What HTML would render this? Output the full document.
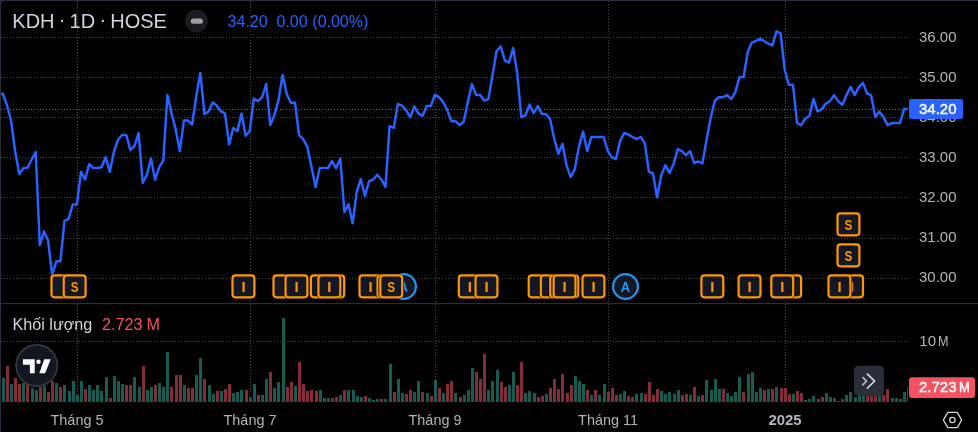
<!DOCTYPE html><html><head><meta charset="utf-8"><title>KDH</title><style>
html,body{margin:0;padding:0;background:#2a2e39;}
#c{will-change:transform;position:relative;width:978px;height:432px;overflow:hidden;background:#2a2e39;}
#bg{position:absolute;left:1px;top:1px;width:977px;height:431px;background:#000;border-top-left-radius:4px;}
.t{position:absolute;white-space:nowrap;font-family:'Liberation Sans',sans-serif;}
</style></head><body><div id="c"><div id="bg"></div>
<style>.md{position:relative;top:-1.7px;}.ax{font-size:15px;line-height:18px;color:#b2b5be;}</style>
<div class="t ax" style="left:919px;top:28.0px;">36.00</div><div class="t ax" style="left:919px;top:68.0px;">35.00</div><div class="t ax" style="left:919px;top:108.0px;">34.00</div><div class="t ax" style="left:919px;top:148.0px;">33.00</div><div class="t ax" style="left:919px;top:188.0px;">32.00</div><div class="t ax" style="left:919px;top:228.0px;">31.00</div><div class="t ax" style="left:919px;top:268.0px;">30.00</div>
<div class="t ax" style="left:919.3px;top:331.5px;">10<span style="display:inline-block;margin-left:1.8px;transform:scaleX(0.84);transform-origin:left center">M</span></div>
<svg width="978" height="432" viewBox="0 0 978 432" style="position:absolute;left:0;top:0">
<defs><clipPath id="plot"><rect x="1" y="1" width="907" height="401"/></clipPath></defs>
<g stroke="#474747" stroke-width="1" stroke-dasharray="1 2" fill="none" shape-rendering="crispEdges">
<path d="M1 37.5H908"/>
<path d="M1 77.5H908"/>
<path d="M1 117.5H908"/>
<path d="M1 157.5H908"/>
<path d="M1 197.5H908"/>
<path d="M1 238.5H908"/>
<path d="M1 278.5H908"/>
<path d="M1 341.5H908"/>
<path d="M77.5 1V402"/>
<path d="M250.5 1V402"/>
<path d="M435.5 1V402"/>
<path d="M608.5 1V402"/>
<path d="M785.5 1V402"/>
</g>
<rect x="1" y="303" width="977" height="1.2" fill="#2a2e39"/>
<g clip-path="url(#plot)" shape-rendering="crispEdges">
<rect x="2" y="378" width="3" height="24" fill="#155d52"/>
<rect x="6" y="366" width="3" height="36" fill="#842d38"/>
<rect x="10" y="384" width="3" height="18" fill="#155d52"/>
<rect x="14" y="378" width="3" height="24" fill="#842d38"/>
<rect x="18" y="384" width="3" height="18" fill="#842d38"/>
<rect x="22" y="383" width="3" height="19" fill="#155d52"/>
<rect x="26" y="384" width="3" height="18" fill="#842d38"/>
<rect x="31" y="388" width="3" height="14" fill="#155d52"/>
<rect x="35" y="390" width="3" height="12" fill="#155d52"/>
<rect x="39" y="387" width="3" height="15" fill="#842d38"/>
<rect x="43" y="386" width="3" height="16" fill="#155d52"/>
<rect x="47" y="392" width="3" height="10" fill="#842d38"/>
<rect x="51" y="381" width="3" height="21" fill="#842d38"/>
<rect x="55" y="383" width="3" height="19" fill="#155d52"/>
<rect x="59" y="387" width="3" height="15" fill="#842d38"/>
<rect x="63" y="385" width="3" height="17" fill="#155d52"/>
<rect x="68" y="391" width="3" height="11" fill="#155d52"/>
<rect x="72" y="381" width="3" height="21" fill="#155d52"/>
<rect x="76" y="395" width="3" height="7" fill="#155d52"/>
<rect x="80" y="381" width="3" height="21" fill="#155d52"/>
<rect x="84" y="389" width="3" height="13" fill="#842d38"/>
<rect x="88" y="385" width="3" height="17" fill="#155d52"/>
<rect x="92" y="390" width="3" height="12" fill="#155d52"/>
<rect x="96" y="385" width="3" height="17" fill="#155d52"/>
<rect x="100" y="391" width="3" height="11" fill="#155d52"/>
<rect x="105" y="377" width="3" height="25" fill="#155d52"/>
<rect x="109" y="398" width="3" height="4" fill="#842d38"/>
<rect x="113" y="376" width="3" height="26" fill="#155d52"/>
<rect x="117" y="381" width="3" height="21" fill="#155d52"/>
<rect x="121" y="384" width="3" height="18" fill="#155d52"/>
<rect x="125" y="385" width="3" height="17" fill="#842d38"/>
<rect x="129" y="385" width="3" height="17" fill="#842d38"/>
<rect x="133" y="377" width="3" height="25" fill="#155d52"/>
<rect x="138" y="387" width="3" height="15" fill="#155d52"/>
<rect x="142" y="366" width="3" height="36" fill="#842d38"/>
<rect x="146" y="390" width="3" height="12" fill="#155d52"/>
<rect x="150" y="387" width="3" height="15" fill="#155d52"/>
<rect x="154" y="385" width="3" height="17" fill="#842d38"/>
<rect x="158" y="383" width="3" height="19" fill="#155d52"/>
<rect x="162" y="387" width="3" height="15" fill="#155d52"/>
<rect x="166" y="352" width="3" height="50" fill="#155d52"/>
<rect x="170" y="387" width="3" height="15" fill="#842d38"/>
<rect x="175" y="375" width="3" height="27" fill="#842d38"/>
<rect x="179" y="375" width="3" height="27" fill="#842d38"/>
<rect x="183" y="385" width="3" height="17" fill="#155d52"/>
<rect x="187" y="388" width="3" height="14" fill="#842d38"/>
<rect x="191" y="388" width="3" height="14" fill="#842d38"/>
<rect x="195" y="375" width="3" height="27" fill="#155d52"/>
<rect x="199" y="358" width="3" height="44" fill="#155d52"/>
<rect x="203" y="379" width="3" height="23" fill="#842d38"/>
<rect x="208" y="385" width="3" height="17" fill="#155d52"/>
<rect x="212" y="394" width="3" height="8" fill="#155d52"/>
<rect x="216" y="391" width="3" height="11" fill="#842d38"/>
<rect x="220" y="391" width="3" height="11" fill="#155d52"/>
<rect x="224" y="389" width="3" height="13" fill="#842d38"/>
<rect x="228" y="384" width="3" height="18" fill="#842d38"/>
<rect x="232" y="393" width="3" height="9" fill="#155d52"/>
<rect x="236" y="392" width="3" height="10" fill="#155d52"/>
<rect x="240" y="390" width="3" height="12" fill="#155d52"/>
<rect x="245" y="390" width="3" height="12" fill="#842d38"/>
<rect x="249" y="397" width="3" height="5" fill="#155d52"/>
<rect x="253" y="384" width="3" height="18" fill="#155d52"/>
<rect x="257" y="395" width="3" height="7" fill="#842d38"/>
<rect x="261" y="395" width="3" height="7" fill="#155d52"/>
<rect x="265" y="379" width="3" height="23" fill="#155d52"/>
<rect x="269" y="372" width="3" height="30" fill="#842d38"/>
<rect x="273" y="388" width="3" height="14" fill="#155d52"/>
<rect x="277" y="382" width="3" height="20" fill="#155d52"/>
<rect x="282" y="318" width="3" height="84" fill="#155d52"/>
<rect x="286" y="387" width="3" height="15" fill="#842d38"/>
<rect x="290" y="382" width="3" height="20" fill="#842d38"/>
<rect x="294" y="386" width="3" height="16" fill="#155d52"/>
<rect x="298" y="362" width="3" height="40" fill="#842d38"/>
<rect x="302" y="384" width="3" height="18" fill="#842d38"/>
<rect x="306" y="391" width="3" height="11" fill="#842d38"/>
<rect x="310" y="390" width="3" height="12" fill="#842d38"/>
<rect x="315" y="391" width="3" height="11" fill="#842d38"/>
<rect x="319" y="390" width="3" height="12" fill="#155d52"/>
<rect x="323" y="398" width="3" height="4" fill="#155d52"/>
<rect x="327" y="398" width="3" height="4" fill="#155d52"/>
<rect x="331" y="398" width="3" height="4" fill="#842d38"/>
<rect x="335" y="397" width="3" height="5" fill="#842d38"/>
<rect x="339" y="395" width="3" height="7" fill="#155d52"/>
<rect x="343" y="390" width="3" height="12" fill="#842d38"/>
<rect x="347" y="390" width="3" height="12" fill="#155d52"/>
<rect x="352" y="390" width="3" height="12" fill="#155d52"/>
<rect x="356" y="396" width="3" height="6" fill="#155d52"/>
<rect x="360" y="397" width="3" height="5" fill="#155d52"/>
<rect x="364" y="396" width="3" height="6" fill="#842d38"/>
<rect x="368" y="398" width="3" height="4" fill="#155d52"/>
<rect x="372" y="400" width="3" height="2" fill="#155d52"/>
<rect x="376" y="399" width="3" height="3" fill="#155d52"/>
<rect x="380" y="399" width="3" height="3" fill="#842d38"/>
<rect x="384" y="399" width="3" height="3" fill="#155d52"/>
<rect x="389" y="364" width="3" height="38" fill="#155d52"/>
<rect x="393" y="392" width="3" height="10" fill="#842d38"/>
<rect x="397" y="379" width="3" height="23" fill="#155d52"/>
<rect x="401" y="393" width="3" height="9" fill="#155d52"/>
<rect x="405" y="394" width="3" height="8" fill="#842d38"/>
<rect x="409" y="390" width="3" height="12" fill="#842d38"/>
<rect x="413" y="392" width="3" height="10" fill="#155d52"/>
<rect x="417" y="381" width="3" height="21" fill="#155d52"/>
<rect x="421" y="392" width="3" height="10" fill="#842d38"/>
<rect x="426" y="393" width="3" height="9" fill="#155d52"/>
<rect x="430" y="396" width="3" height="6" fill="#842d38"/>
<rect x="434" y="380" width="3" height="22" fill="#155d52"/>
<rect x="438" y="388" width="3" height="14" fill="#842d38"/>
<rect x="442" y="393" width="3" height="9" fill="#155d52"/>
<rect x="446" y="384" width="3" height="18" fill="#842d38"/>
<rect x="450" y="381" width="3" height="21" fill="#842d38"/>
<rect x="454" y="393" width="3" height="9" fill="#155d52"/>
<rect x="459" y="397" width="3" height="5" fill="#842d38"/>
<rect x="463" y="395" width="3" height="7" fill="#155d52"/>
<rect x="467" y="390" width="3" height="12" fill="#155d52"/>
<rect x="471" y="368" width="3" height="34" fill="#155d52"/>
<rect x="475" y="372" width="3" height="30" fill="#842d38"/>
<rect x="479" y="379" width="3" height="23" fill="#842d38"/>
<rect x="483" y="354" width="3" height="48" fill="#842d38"/>
<rect x="487" y="390" width="3" height="12" fill="#155d52"/>
<rect x="491" y="381" width="3" height="21" fill="#155d52"/>
<rect x="496" y="370" width="3" height="32" fill="#155d52"/>
<rect x="500" y="382" width="3" height="20" fill="#842d38"/>
<rect x="504" y="387" width="3" height="15" fill="#842d38"/>
<rect x="508" y="385" width="3" height="17" fill="#155d52"/>
<rect x="512" y="372" width="3" height="30" fill="#155d52"/>
<rect x="516" y="385" width="3" height="17" fill="#842d38"/>
<rect x="520" y="362" width="3" height="40" fill="#842d38"/>
<rect x="524" y="393" width="3" height="9" fill="#155d52"/>
<rect x="528" y="391" width="3" height="11" fill="#155d52"/>
<rect x="533" y="393" width="3" height="9" fill="#155d52"/>
<rect x="537" y="397" width="3" height="5" fill="#842d38"/>
<rect x="541" y="396" width="3" height="6" fill="#842d38"/>
<rect x="545" y="394" width="3" height="8" fill="#155d52"/>
<rect x="549" y="388" width="3" height="14" fill="#842d38"/>
<rect x="553" y="379" width="3" height="23" fill="#842d38"/>
<rect x="557" y="389" width="3" height="13" fill="#842d38"/>
<rect x="561" y="374" width="3" height="28" fill="#842d38"/>
<rect x="566" y="393" width="3" height="9" fill="#842d38"/>
<rect x="570" y="385" width="3" height="17" fill="#842d38"/>
<rect x="574" y="376" width="3" height="26" fill="#155d52"/>
<rect x="578" y="381" width="3" height="21" fill="#155d52"/>
<rect x="582" y="384" width="3" height="18" fill="#155d52"/>
<rect x="586" y="390" width="3" height="12" fill="#842d38"/>
<rect x="590" y="395" width="3" height="7" fill="#155d52"/>
<rect x="594" y="390" width="3" height="12" fill="#842d38"/>
<rect x="598" y="395" width="3" height="7" fill="#155d52"/>
<rect x="603" y="384" width="3" height="18" fill="#155d52"/>
<rect x="607" y="392" width="3" height="10" fill="#842d38"/>
<rect x="611" y="388" width="3" height="14" fill="#842d38"/>
<rect x="615" y="395" width="3" height="7" fill="#842d38"/>
<rect x="619" y="394" width="3" height="8" fill="#155d52"/>
<rect x="623" y="391" width="3" height="11" fill="#155d52"/>
<rect x="627" y="396" width="3" height="6" fill="#842d38"/>
<rect x="631" y="397" width="3" height="5" fill="#842d38"/>
<rect x="635" y="394" width="3" height="8" fill="#155d52"/>
<rect x="640" y="393" width="3" height="9" fill="#155d52"/>
<rect x="644" y="394" width="3" height="8" fill="#842d38"/>
<rect x="648" y="382" width="3" height="20" fill="#842d38"/>
<rect x="652" y="395" width="3" height="7" fill="#842d38"/>
<rect x="656" y="389" width="3" height="13" fill="#842d38"/>
<rect x="660" y="391" width="3" height="11" fill="#155d52"/>
<rect x="664" y="394" width="3" height="8" fill="#155d52"/>
<rect x="668" y="392" width="3" height="10" fill="#155d52"/>
<rect x="673" y="394" width="3" height="8" fill="#155d52"/>
<rect x="677" y="390" width="3" height="12" fill="#155d52"/>
<rect x="681" y="395" width="3" height="7" fill="#842d38"/>
<rect x="685" y="394" width="3" height="8" fill="#842d38"/>
<rect x="689" y="395" width="3" height="7" fill="#155d52"/>
<rect x="693" y="387" width="3" height="15" fill="#842d38"/>
<rect x="697" y="396" width="3" height="6" fill="#155d52"/>
<rect x="701" y="395" width="3" height="7" fill="#842d38"/>
<rect x="705" y="380" width="3" height="22" fill="#155d52"/>
<rect x="710" y="390" width="3" height="12" fill="#155d52"/>
<rect x="714" y="379" width="3" height="23" fill="#155d52"/>
<rect x="718" y="389" width="3" height="13" fill="#155d52"/>
<rect x="722" y="389" width="3" height="13" fill="#842d38"/>
<rect x="726" y="393" width="3" height="9" fill="#155d52"/>
<rect x="730" y="396" width="3" height="6" fill="#155d52"/>
<rect x="734" y="392" width="3" height="10" fill="#155d52"/>
<rect x="738" y="377" width="3" height="25" fill="#155d52"/>
<rect x="742" y="392" width="3" height="10" fill="#842d38"/>
<rect x="747" y="374" width="3" height="28" fill="#155d52"/>
<rect x="751" y="372" width="3" height="30" fill="#155d52"/>
<rect x="755" y="392" width="3" height="10" fill="#155d52"/>
<rect x="759" y="388" width="3" height="14" fill="#155d52"/>
<rect x="763" y="390" width="3" height="12" fill="#842d38"/>
<rect x="767" y="389" width="3" height="13" fill="#155d52"/>
<rect x="771" y="389" width="3" height="13" fill="#842d38"/>
<rect x="775" y="387" width="3" height="15" fill="#155d52"/>
<rect x="780" y="388" width="3" height="14" fill="#842d38"/>
<rect x="784" y="388" width="3" height="14" fill="#842d38"/>
<rect x="788" y="394" width="3" height="8" fill="#842d38"/>
<rect x="792" y="394" width="3" height="8" fill="#155d52"/>
<rect x="796" y="391" width="3" height="11" fill="#842d38"/>
<rect x="800" y="393" width="3" height="9" fill="#842d38"/>
<rect x="804" y="400" width="3" height="2" fill="#155d52"/>
<rect x="808" y="399" width="3" height="3" fill="#155d52"/>
<rect x="812" y="396" width="3" height="6" fill="#155d52"/>
<rect x="817" y="399" width="3" height="3" fill="#842d38"/>
<rect x="821" y="397" width="3" height="5" fill="#842d38"/>
<rect x="825" y="393" width="3" height="9" fill="#155d52"/>
<rect x="829" y="397" width="3" height="5" fill="#155d52"/>
<rect x="833" y="398" width="3" height="4" fill="#155d52"/>
<rect x="837" y="401" width="3" height="1" fill="#842d38"/>
<rect x="841" y="399" width="3" height="3" fill="#842d38"/>
<rect x="845" y="395" width="3" height="7" fill="#155d52"/>
<rect x="849" y="392" width="3" height="10" fill="#155d52"/>
<rect x="854" y="397" width="3" height="5" fill="#155d52"/>
<rect x="858" y="394" width="3" height="8" fill="#155d52"/>
<rect x="862" y="394" width="3" height="8" fill="#155d52"/>
<rect x="866" y="394" width="3" height="8" fill="#842d38"/>
<rect x="870" y="394" width="3" height="8" fill="#842d38"/>
<rect x="874" y="394" width="3" height="8" fill="#842d38"/>
<rect x="878" y="394" width="3" height="8" fill="#155d52"/>
<rect x="882" y="395" width="3" height="7" fill="#842d38"/>
<rect x="886" y="389" width="3" height="13" fill="#842d38"/>
<rect x="891" y="398" width="3" height="4" fill="#155d52"/>
<rect x="895" y="398" width="3" height="4" fill="#155d52"/>
<rect x="899" y="399" width="3" height="3" fill="#155d52"/>
<rect x="903" y="392" width="3" height="10" fill="#155d52"/>
<rect x="907" y="387" width="3" height="15" fill="#842d38"/>
</g>
<path d="M1 109.5H909" stroke="#2962ff" stroke-width="1" stroke-dasharray="1 2" fill="none" shape-rendering="crispEdges"/>
<polyline clip-path="url(#plot)" points="-1.3,94.6 2.8,93.6 6.9,105.0 11.0,120.5 15.1,151.0 19.3,174.0 23.4,168.2 27.5,167.8 31.6,159.5 35.7,152.0 39.8,245.0 44.0,231.5 48.1,240.5 52.2,275.0 56.3,261.3 60.4,261.3 64.5,220.8 68.6,218.8 72.8,204.4 76.9,204.4 81.0,171.7 85.1,179.4 89.2,164.2 93.3,168.0 97.5,168.0 101.6,167.2 105.7,157.2 109.8,171.8 113.9,152.0 118.0,139.7 122.1,135.0 126.3,135.0 130.4,150.1 134.5,146.2 138.6,133.1 142.7,183.0 146.8,175.1 151.0,158.6 155.1,179.8 159.2,167.2 163.3,160.6 167.4,95.0 171.5,113.1 175.6,129.1 179.8,151.0 183.9,120.6 188.0,120.6 192.1,124.7 196.2,96.5 200.3,73.0 204.5,114.0 208.6,111.6 212.7,102.5 216.8,105.7 220.9,111.2 225.0,113.6 229.1,144.4 233.3,128.1 237.4,131.2 241.5,113.6 245.6,135.8 249.7,131.1 253.8,98.7 258.0,101.1 262.1,97.1 266.2,84.0 270.3,125.1 274.4,115.1 278.5,100.1 282.6,75.0 286.8,94.1 290.9,102.7 295.0,102.7 299.1,135.1 303.2,139.1 307.3,146.8 311.5,167.0 315.6,187.0 319.7,168.1 323.8,168.1 327.9,168.1 332.0,161.1 336.1,168.1 340.3,158.5 344.4,212.2 348.5,204.2 352.6,223.3 356.7,192.0 360.8,179.2 365.0,196.0 369.1,181.2 373.2,179.5 377.3,174.8 381.4,179.5 385.5,186.9 389.6,126.2 393.8,127.8 397.9,104.1 402.0,105.7 406.1,110.1 410.2,117.2 414.3,106.5 418.5,113.7 422.6,115.8 426.7,106.1 430.8,106.1 434.9,94.7 439.0,97.1 443.1,102.1 447.3,110.1 451.4,121.2 455.5,121.2 459.6,125.2 463.7,121.8 467.8,102.1 472.0,84.1 476.1,95.1 480.2,95.1 484.3,100.7 488.4,99.1 492.5,75.1 496.6,51.0 500.8,46.4 504.9,60.6 509.0,62.6 513.1,48.0 517.2,73.1 521.3,117.2 525.5,115.2 529.6,104.5 533.7,113.1 537.8,106.1 541.9,113.8 546.0,114.2 550.1,119.1 554.3,139.1 558.4,153.7 562.5,143.7 566.6,165.7 570.7,177.1 574.8,169.1 579.0,146.1 583.1,131.6 587.2,151.1 591.3,137.0 595.4,137.0 599.5,137.0 603.6,137.0 607.8,151.1 611.9,157.1 616.0,159.1 620.1,141.1 624.2,133.0 628.3,134.6 632.5,137.0 636.6,139.1 640.7,137.0 644.8,143.1 648.9,171.7 653.0,173.5 657.1,197.2 661.3,175.1 665.4,165.1 669.5,173.1 673.6,164.1 677.7,149.1 681.8,151.1 686.0,155.1 690.1,151.1 694.2,163.1 698.3,161.5 702.4,163.5 706.5,140.1 710.6,118.0 714.8,100.8 718.9,97.2 723.0,97.2 727.1,95.1 731.2,99.2 735.3,92.1 739.5,77.1 743.6,77.1 747.7,52.1 751.8,42.6 755.9,41.0 760.0,38.6 764.1,41.0 768.3,43.6 772.4,45.4 776.5,31.4 780.6,33.3 784.7,69.5 788.8,84.8 793.0,84.8 797.1,123.1 801.2,125.1 805.3,118.5 809.4,116.1 813.5,99.0 817.6,111.5 821.8,109.1 825.9,103.5 830.0,101.1 834.1,95.1 838.2,101.1 842.3,104.9 846.5,95.1 850.6,86.8 854.7,95.1 858.8,87.2 862.9,82.9 867.0,93.3 871.1,95.3 875.3,117.1 879.4,111.5 883.5,117.1 887.6,125.1 891.7,123.1 895.8,123.1 900.0,123.1 904.1,109.1 908.2,109.1" fill="none" stroke="#2962ff" stroke-width="2.5" stroke-linejoin="round" stroke-linecap="round"/>
<rect x="49.8" y="273.7" width="25.3" height="25.3" rx="5" ry="5" fill="#000"/><rect x="51.5" y="275.4" width="21.9" height="21.9" rx="3" ry="3" fill="#141724" stroke="#ff9800" stroke-width="2.2"/>
<rect x="62.0" y="273.7" width="25.3" height="25.3" rx="5" ry="5" fill="#000"/><rect x="63.7" y="275.4" width="21.9" height="21.9" rx="3" ry="3" fill="#141724" stroke="#ff9800" stroke-width="2.2"/><text transform="translate(74.65 292.0) scale(0.76 1)" x="0" y="0" text-anchor="middle" font-family="Liberation Sans, sans-serif" font-weight="bold" font-size="15.4" fill="#ff9800">S</text>
<rect x="230.8" y="273.7" width="25.3" height="25.3" rx="5" ry="5" fill="#000"/><rect x="232.5" y="275.4" width="21.9" height="21.9" rx="3" ry="3" fill="#141724" stroke="#ff9800" stroke-width="2.2"/><text x="243.45" y="292.0" text-anchor="middle" font-family="Liberation Sans, sans-serif" font-weight="bold" font-size="14.8" fill="#ff9800">I</text>
<rect x="271.8" y="273.7" width="25.3" height="25.3" rx="5" ry="5" fill="#000"/><rect x="273.5" y="275.4" width="21.9" height="21.9" rx="3" ry="3" fill="#141724" stroke="#ff9800" stroke-width="2.2"/>
<rect x="283.8" y="273.7" width="25.3" height="25.3" rx="5" ry="5" fill="#000"/><rect x="285.5" y="275.4" width="21.9" height="21.9" rx="3" ry="3" fill="#141724" stroke="#ff9800" stroke-width="2.2"/><text x="296.45" y="292.0" text-anchor="middle" font-family="Liberation Sans, sans-serif" font-weight="bold" font-size="14.8" fill="#ff9800">I</text>
<rect x="309.2" y="273.7" width="25.3" height="25.3" rx="5" ry="5" fill="#000"/><rect x="310.9" y="275.4" width="21.9" height="21.9" rx="3" ry="3" fill="#141724" stroke="#ff9800" stroke-width="2.2"/>
<rect x="320.6" y="273.7" width="25.3" height="25.3" rx="5" ry="5" fill="#000"/><rect x="322.3" y="275.4" width="21.9" height="21.9" rx="3" ry="3" fill="#141724" stroke="#ff9800" stroke-width="2.2"/>
<rect x="316.7" y="273.7" width="25.3" height="25.3" rx="5" ry="5" fill="#000"/><rect x="318.4" y="275.4" width="21.9" height="21.9" rx="3" ry="3" fill="#141724" stroke="#ff9800" stroke-width="2.2"/><text x="329.35" y="292.0" text-anchor="middle" font-family="Liberation Sans, sans-serif" font-weight="bold" font-size="14.8" fill="#ff9800">I</text>
<rect x="357.8" y="273.7" width="25.3" height="25.3" rx="5" ry="5" fill="#000"/><rect x="359.5" y="275.4" width="21.9" height="21.9" rx="3" ry="3" fill="#141724" stroke="#ff9800" stroke-width="2.2"/><text x="370.45" y="292.0" text-anchor="middle" font-family="Liberation Sans, sans-serif" font-weight="bold" font-size="14.8" fill="#ff9800">I</text>
<rect x="375.8" y="273.7" width="25.3" height="25.3" rx="5" ry="5" fill="#000"/><rect x="377.5" y="275.4" width="21.9" height="21.9" rx="3" ry="3" fill="#141724" stroke="#ff9800" stroke-width="2.2"/>
<circle cx="403.5" cy="286.5" r="14.2" fill="#000"/><circle cx="403.5" cy="286.5" r="12.4" fill="#141724" stroke="#2196f3" stroke-width="2.2"/><text transform="translate(403.5 291.9) scale(0.86 1)" x="0" y="0" text-anchor="middle" font-family="Liberation Sans, sans-serif" font-weight="bold" font-size="15" fill="#2196f3">A</text>
<rect x="378.6" y="273.7" width="25.3" height="25.3" rx="5" ry="5" fill="#000"/><rect x="380.3" y="275.4" width="21.9" height="21.9" rx="3" ry="3" fill="#141724" stroke="#ff9800" stroke-width="2.2"/><text transform="translate(391.25 292.0) scale(0.76 1)" x="0" y="0" text-anchor="middle" font-family="Liberation Sans, sans-serif" font-weight="bold" font-size="15.4" fill="#ff9800">S</text>
<rect x="457.1" y="273.7" width="25.3" height="25.3" rx="5" ry="5" fill="#000"/><rect x="458.8" y="275.4" width="21.9" height="21.9" rx="3" ry="3" fill="#141724" stroke="#ff9800" stroke-width="2.2"/><text x="469.75" y="292.0" text-anchor="middle" font-family="Liberation Sans, sans-serif" font-weight="bold" font-size="14.8" fill="#ff9800">I</text>
<rect x="473.8" y="273.7" width="25.3" height="25.3" rx="5" ry="5" fill="#000"/><rect x="475.5" y="275.4" width="21.9" height="21.9" rx="3" ry="3" fill="#141724" stroke="#ff9800" stroke-width="2.2"/><text x="486.45" y="292.0" text-anchor="middle" font-family="Liberation Sans, sans-serif" font-weight="bold" font-size="14.8" fill="#ff9800">I</text>
<rect x="527.0" y="273.7" width="25.3" height="25.3" rx="5" ry="5" fill="#000"/><rect x="528.7" y="275.4" width="21.9" height="21.9" rx="3" ry="3" fill="#141724" stroke="#ff9800" stroke-width="2.2"/>
<rect x="539.1" y="273.7" width="25.3" height="25.3" rx="5" ry="5" fill="#000"/><rect x="540.8" y="275.4" width="21.9" height="21.9" rx="3" ry="3" fill="#141724" stroke="#ff9800" stroke-width="2.2"/>
<rect x="548.5" y="273.7" width="25.3" height="25.3" rx="5" ry="5" fill="#000"/><rect x="550.2" y="275.4" width="21.9" height="21.9" rx="3" ry="3" fill="#141724" stroke="#ff9800" stroke-width="2.2"/>
<rect x="554.6" y="273.7" width="25.3" height="25.3" rx="5" ry="5" fill="#000"/><rect x="556.3" y="275.4" width="21.9" height="21.9" rx="3" ry="3" fill="#141724" stroke="#ff9800" stroke-width="2.2"/>
<rect x="551.9" y="273.7" width="25.3" height="25.3" rx="5" ry="5" fill="#000"/><rect x="553.6" y="275.4" width="21.9" height="21.9" rx="3" ry="3" fill="#141724" stroke="#ff9800" stroke-width="2.2"/><text x="564.55" y="292.0" text-anchor="middle" font-family="Liberation Sans, sans-serif" font-weight="bold" font-size="14.8" fill="#ff9800">I</text>
<rect x="580.8" y="273.7" width="25.3" height="25.3" rx="5" ry="5" fill="#000"/><rect x="582.5" y="275.4" width="21.9" height="21.9" rx="3" ry="3" fill="#141724" stroke="#ff9800" stroke-width="2.2"/><text x="593.45" y="292.0" text-anchor="middle" font-family="Liberation Sans, sans-serif" font-weight="bold" font-size="14.8" fill="#ff9800">I</text>
<circle cx="625.5" cy="286.5" r="14.2" fill="#000"/><circle cx="625.5" cy="286.5" r="12.4" fill="#141724" stroke="#2196f3" stroke-width="2.2"/><text transform="translate(625.5 291.9) scale(0.86 1)" x="0" y="0" text-anchor="middle" font-family="Liberation Sans, sans-serif" font-weight="bold" font-size="15" fill="#2196f3">A</text>
<rect x="699.7" y="273.7" width="25.3" height="25.3" rx="5" ry="5" fill="#000"/><rect x="701.4" y="275.4" width="21.9" height="21.9" rx="3" ry="3" fill="#141724" stroke="#ff9800" stroke-width="2.2"/><text x="712.35" y="292.0" text-anchor="middle" font-family="Liberation Sans, sans-serif" font-weight="bold" font-size="14.8" fill="#ff9800">I</text>
<rect x="736.9" y="273.7" width="25.3" height="25.3" rx="5" ry="5" fill="#000"/><rect x="738.6" y="275.4" width="21.9" height="21.9" rx="3" ry="3" fill="#141724" stroke="#ff9800" stroke-width="2.2"/><text x="749.55" y="292.0" text-anchor="middle" font-family="Liberation Sans, sans-serif" font-weight="bold" font-size="14.8" fill="#ff9800">I</text>
<rect x="777.5" y="273.7" width="25.3" height="25.3" rx="5" ry="5" fill="#000"/><rect x="779.2" y="275.4" width="21.9" height="21.9" rx="3" ry="3" fill="#141724" stroke="#ff9800" stroke-width="2.2"/>
<rect x="769.6" y="273.7" width="25.3" height="25.3" rx="5" ry="5" fill="#000"/><rect x="771.3" y="275.4" width="21.9" height="21.9" rx="3" ry="3" fill="#141724" stroke="#ff9800" stroke-width="2.2"/><text x="782.25" y="292.0" text-anchor="middle" font-family="Liberation Sans, sans-serif" font-weight="bold" font-size="14.8" fill="#ff9800">I</text>
<rect x="839.4" y="273.7" width="25.3" height="25.3" rx="5" ry="5" fill="#000"/><rect x="841.1" y="275.4" width="21.9" height="21.9" rx="3" ry="3" fill="#141724" stroke="#ff9800" stroke-width="2.2"/><text x="852.05" y="292.0" text-anchor="middle" font-family="Liberation Sans, sans-serif" font-weight="bold" font-size="14.8" fill="#ff9800">I</text>
<rect x="826.8" y="273.7" width="25.3" height="25.3" rx="5" ry="5" fill="#000"/><rect x="828.5" y="275.4" width="21.9" height="21.9" rx="3" ry="3" fill="#141724" stroke="#ff9800" stroke-width="2.2"/><text x="839.45" y="292.0" text-anchor="middle" font-family="Liberation Sans, sans-serif" font-weight="bold" font-size="14.8" fill="#ff9800">I</text>
<rect x="835.8" y="242.7" width="25.3" height="25.3" rx="5" ry="5" fill="#000"/><rect x="837.5" y="244.4" width="21.9" height="21.9" rx="3" ry="3" fill="#141724" stroke="#ff9800" stroke-width="2.2"/><text transform="translate(848.45 261.0) scale(0.76 1)" x="0" y="0" text-anchor="middle" font-family="Liberation Sans, sans-serif" font-weight="bold" font-size="15.4" fill="#ff9800">S</text>
<rect x="835.8" y="211.7" width="25.3" height="25.3" rx="5" ry="5" fill="#000"/><rect x="837.5" y="213.4" width="21.9" height="21.9" rx="3" ry="3" fill="#141724" stroke="#ff9800" stroke-width="2.2"/><text transform="translate(848.45 230.0) scale(0.76 1)" x="0" y="0" text-anchor="middle" font-family="Liberation Sans, sans-serif" font-weight="bold" font-size="15.4" fill="#ff9800">S</text>
<circle cx="36.7" cy="365.5" r="20.6" fill="#131722" stroke="#363a45" stroke-width="1.6"/>
<path d="M22.9 359.3H34.7V373.2H29.9V364.8H22.9Z" fill="#fff"/>
<circle cx="38.5" cy="361.8" r="2.2" fill="#fff"/>
<path d="M44.2 359.3H50.7L45.1 373.2H39.3Z" fill="#fff"/>
<rect x="854" y="365.8" width="30.1" height="29.9" rx="4.5" fill="#2a2e39"/>
<path d="M862.4 377L866.5 381.1L862.4 385.4" fill="none" stroke="#b8bbc4" stroke-width="1.6"/>
<path d="M866.9 373.6L874.6 381.1L866.9 388.6" fill="none" stroke="#d9dbe2" stroke-width="1.6"/>
<circle cx="196.5" cy="20.9" r="11.4" fill="#1b1c1f"/>
<rect x="190.8" y="18.5" width="12.1" height="5.3" rx="2.65" fill="#9da0ab"/>
<path d="M943.4 420.1L947.8 412.4H957.3L961.6 420.1L957.3 427.7H947.8Z" fill="none" stroke="#d1d4dc" stroke-width="1.3" stroke-linejoin="round"/>
<circle cx="952.4" cy="420" r="2.7" fill="none" stroke="#d1d4dc" stroke-width="1.25"/>
<rect x="909" y="99" width="54" height="20" rx="2.5" fill="#2962ff"/>
<rect x="909" y="377.3" width="66" height="20.6" rx="3" fill="#f45260"/>
</svg>
<div class="t" style="left:12.3px;top:9.1px;font-size:20px;line-height:24px;color:#d1d4dc;word-spacing:-1.35px;">KDH <span class="md">·</span> 1D <span class="md">·</span> HOSE</div>
<div class="t" style="left:227.6px;top:12.1px;font-size:16px;line-height:20px;color:#2962ff;">34.20</div>
<div class="t" style="left:276.5px;top:12.1px;font-size:16px;line-height:20px;color:#2962ff;">0.00</div>
<div class="t" style="left:312.3px;top:12.1px;font-size:16px;line-height:20px;color:#2962ff;">(0.00%)</div>
<div class="t" style="left:12.4px;top:314.4px;font-size:16.2px;line-height:20px;color:#d1d4dc;">Khối lượng</div>
<div class="t" style="left:102px;top:314.4px;font-size:16.2px;line-height:20px;color:#f7525f;">2.723<span style="margin-left:4.1px">M</span></div>
<div class="t" style="left:919px;top:100px;font-size:15px;line-height:18px;color:#fff;-webkit-text-stroke:0.45px #fff;">34.20</div>
<div class="t" style="left:919px;top:378.2px;font-size:15px;line-height:18px;color:#fff;-webkit-text-stroke:0.45px #fff;">2.723<span style="display:inline-block;margin-left:2.2px;transform:scaleX(0.86);transform-origin:left center">M</span></div>
<div class="t" style="left:37px;width:80px;text-align:center;top:410.6px;font-size:15px;line-height:18px;color:#b2b5be;transform:scaleX(0.96);">Tháng 5</div>
<div class="t" style="left:210px;width:80px;text-align:center;top:410.6px;font-size:15px;line-height:18px;color:#b2b5be;transform:scaleX(0.96);">Tháng 7</div>
<div class="t" style="left:395px;width:80px;text-align:center;top:410.6px;font-size:15px;line-height:18px;color:#b2b5be;transform:scaleX(0.96);">Tháng 9</div>
<div class="t" style="left:568px;width:80px;text-align:center;top:410.6px;font-size:15px;line-height:18px;color:#b2b5be;transform:scaleX(0.96);">Tháng 11</div>
<div class="t" style="left:745px;width:80px;text-align:center;top:410.8px;font-size:14.9px;line-height:18px;color:#b2b5be;font-weight:bold;">2025</div>
</div></body></html>
